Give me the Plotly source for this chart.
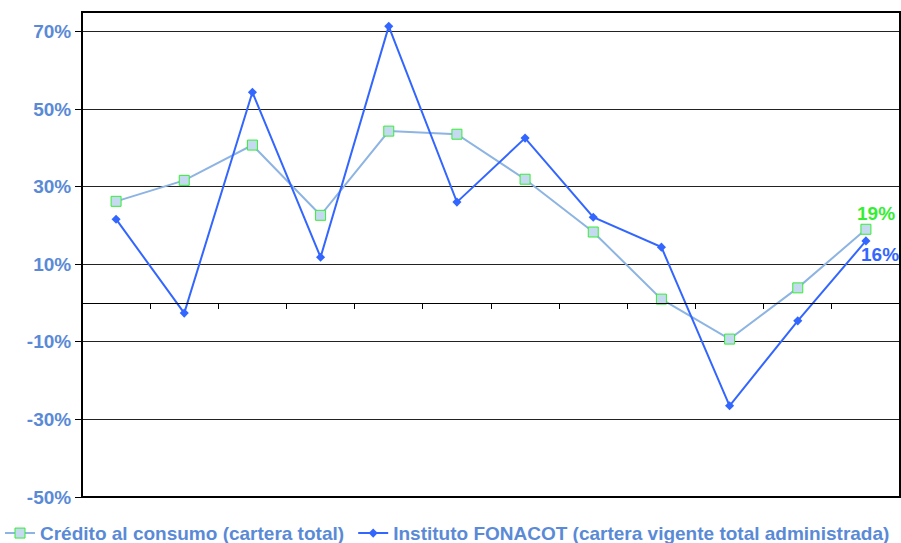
import plotly.graph_objects as go

# Annual growth, 12 periods
periods = list(range(12))
credito_consumo = [26.2, 31.6, 40.7, 22.6, 44.3, 43.5, 31.9, 18.3, 1.0, -9.3, 3.9, 19.0]
fonacot = [21.6, -2.6, 54.3, 11.8, 71.3, 26.0, 42.5, 22.1, 14.4, -26.5, -4.6, 16.0]
y_ticks = [-50, -30, -10, 10, 30, 50, 70]
y_labels = [f"{v}%" for v in y_ticks]

label_blue = "#5A8AD6"
font_family = "Liberation Sans, Arial, sans-serif"
fsize = 19

fig = go.Figure()
fig.add_trace(go.Scatter(
    x=periods, y=credito_consumo, mode="lines+markers",
    name="<b>Crédito al consumo (cartera total)</b>",
    line=dict(color="#8DB4E2", width=2),
    marker=dict(symbol="square", size=10, color="#C5D9F1",
                line=dict(color="#33EE33", width=1)),
    legend="legend",
))
fig.add_trace(go.Scatter(
    x=periods, y=fonacot, mode="lines+markers",
    name="<b>Instituto FONACOT (cartera vigente total administrada)</b>",
    line=dict(color="#3366FF", width=2),
    marker=dict(symbol="diamond", size=7, color="#3366FF"),
    legend="legend2",
))

# Value labels on the last period
fig.add_annotation(x=periods[-1], y=credito_consumo[-1], text=f"<b>{credito_consumo[-1]:.0f}%</b>",
                   showarrow=False, yshift=16, xshift=10,
                   font=dict(color="#33EE33", size=fsize, family=font_family))
fig.add_annotation(x=periods[-1], y=fonacot[-1], text=f"<b>{fonacot[-1]:.0f}%</b>",
                   showarrow=False, yshift=-14, xshift=14,
                   font=dict(color="#3366FF", size=fsize, family=font_family))

# Plot frame
fig.add_shape(type="rect", xref="paper", yref="paper", x0=0, x1=1, y0=0, y1=1,
              line=dict(color="black", width=2), layer="above")

legend_style = dict(orientation="h", xref="container", yref="container",
                    y=0.018, xanchor="left", yanchor="middle",
                    font=dict(size=fsize, color=label_blue, family=font_family),
                    itemwidth=30, bgcolor="rgba(0,0,0,0)")

fig.update_layout(
    width=901, height=543,
    margin=dict(l=82, r=1, t=12, b=46, autoexpand=False),
    paper_bgcolor="white", plot_bgcolor="white",
    font=dict(family=font_family),
    showlegend=True,
    legend=dict(x=-0.006, **legend_style),
    legend2=dict(x=0.392, **legend_style),
    xaxis=dict(
        range=[-0.5, 11.5], anchor="free", position=0.4,
        showgrid=False, zeroline=False, showline=True, linecolor="black", linewidth=1,
        tickvals=[i + 0.5 for i in range(11)], ticks="outside", ticklen=5,
        tickcolor="black", showticklabels=False,
    ),
    yaxis=dict(
        range=[-50, 75], tickvals=y_ticks, ticktext=[f"<b>{t}</b>" for t in y_labels],
        showgrid=True, gridcolor="#222222", gridwidth=1, zeroline=False,
        ticks="outside", ticklen=6, tickcolor="black",
        tickfont=dict(size=fsize, color=label_blue, family=font_family),
        showline=False, automargin=False,
    ),
)

fig.write_html("out.html")
